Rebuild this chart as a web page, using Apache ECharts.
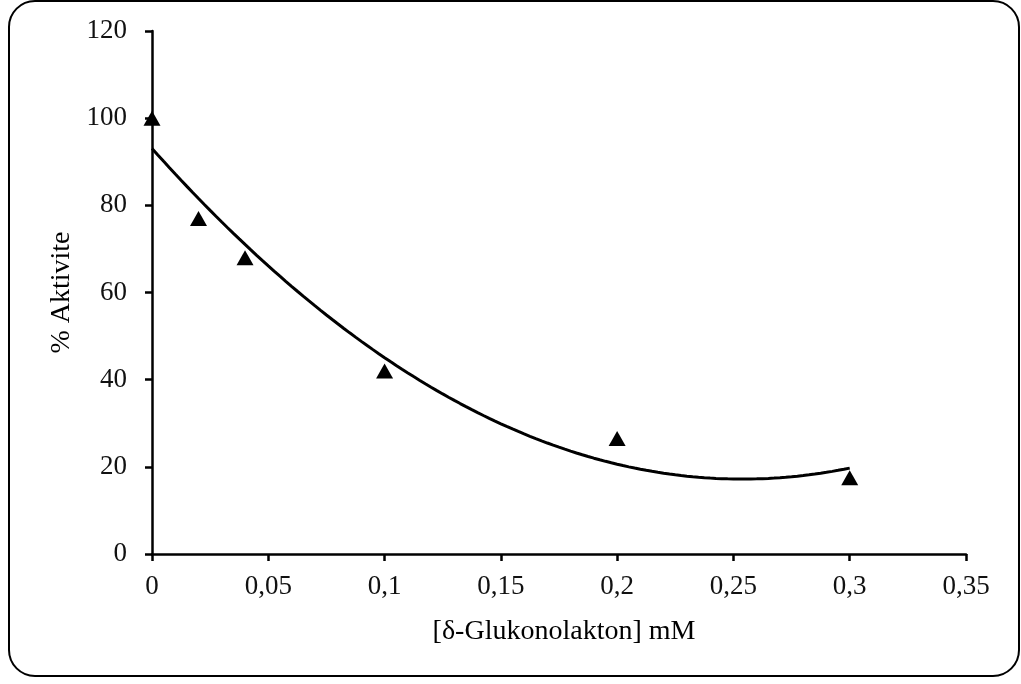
<!DOCTYPE html>
<html>
<head>
<meta charset="utf-8">
<script src="https://cdn.jsdelivr.net/npm/echarts@6/dist/echarts.min.js"></script>
<style>
  html, body { margin: 0; padding: 0; background: #fff; }
  #chart { width: 1021px; height: 684px; }
</style>
</head>
<body>
<div id="chart"></div>
<script>
// Measured activity at each inhibitor concentration
const concentrations = [0, 0.02, 0.04, 0.1, 0.2, 0.3];
const activity = [100, 77, 68, 42, 26.5, 17.5];

const xTitle = '[δ-Glukonolakton] mM';
const yTitle = '% Aktivite';

// Second-order polynomial trendline (least squares) through the measurements
function quadFit(xs, ys) {
  let s = [0, 0, 0, 0, 0], t = [0, 0, 0];
  for (let i = 0; i < xs.length; i++) {
    let p = 1;
    for (let k = 0; k < 5; k++) { s[k] += p; if (k < 3) t[k] += p * ys[i]; p *= xs[i]; }
  }
  const M = [[s[0], s[1], s[2], t[0]], [s[1], s[2], s[3], t[1]], [s[2], s[3], s[4], t[2]]];
  for (let c = 0; c < 3; c++) {
    for (let r = c + 1; r < 3; r++) {
      const f = M[r][c] / M[c][c];
      for (let k = c; k < 4; k++) M[r][k] -= f * M[c][k];
    }
  }
  const coef = [0, 0, 0];
  for (let r = 2; r >= 0; r--) {
    let v = M[r][3];
    for (let k = r + 1; k < 3; k++) v -= M[r][k] * coef[k];
    coef[r] = v / M[r][r];
  }
  return coef;
}
const [a0, a1, a2] = quadFit(concentrations, activity);
const xMax = concentrations[concentrations.length - 1];
const trend = [];
for (let i = 0; i <= 120; i++) {
  const x = xMax * i / 120;
  trend.push([x, a0 + a1 * x + a2 * x * x]);
}

const font = '"Liberation Serif", "Times New Roman", serif';
const chart = echarts.init(document.getElementById('chart'));
chart.setOption({
  animation: false,
  backgroundColor: '#fff',
  graphic: [{
    type: 'rect',
    shape: { x: 9, y: 1, width: 1010, height: 675, r: 26 },
    style: { fill: 'none', stroke: '#000', lineWidth: 2 },
    silent: true
  }],
  grid: { left: 152, right: 55, top: 31, bottom: 130 },
  xAxis: {
    type: 'value', min: 0, max: 0.35, interval: 0.05,
    name: xTitle, nameLocation: 'middle', nameGap: 64,
    nameTextStyle: { fontFamily: font, fontSize: 28, color: '#000', padding: [0, 0, 0, 10] },
    axisLine: { show: true, onZero: false, lineStyle: { color: '#000', width: 2.5 } },
    axisTick: { show: true, length: 7, lineStyle: { color: '#000', width: 2.5 } },
    axisLabel: { fontFamily: font, fontSize: 27, color: '#111', margin: 19,
      formatter: v => String(Math.round(v * 100) / 100).replace('.', ',') },
    splitLine: { show: false }
  },
  yAxis: {
    type: 'value', min: 0, max: 120, interval: 20,
    name: yTitle, nameLocation: 'middle', nameGap: 76,
    nameTextStyle: { fontFamily: font, fontSize: 28, color: '#000' },
    axisLine: { show: true, lineStyle: { color: '#000', width: 2.5 } },
    axisTick: { show: true, length: 7, lineStyle: { color: '#000', width: 2.5 } },
    axisLabel: { fontFamily: font, fontSize: 27, color: '#111', margin: 25 },
    splitLine: { show: false }
  },
  series: [
    {
      type: 'line', data: trend, showSymbol: false, smooth: false,
      lineStyle: { color: '#000', width: 3 }, z: 2
    },
    {
      type: 'scatter', data: concentrations.map((x, i) => [x, activity[i]]),
      symbol: 'triangle', symbolSize: [17, 15],
      itemStyle: { color: '#000', opacity: 1 }, z: 3
    }
  ]
});
</script>
</body>
</html>
